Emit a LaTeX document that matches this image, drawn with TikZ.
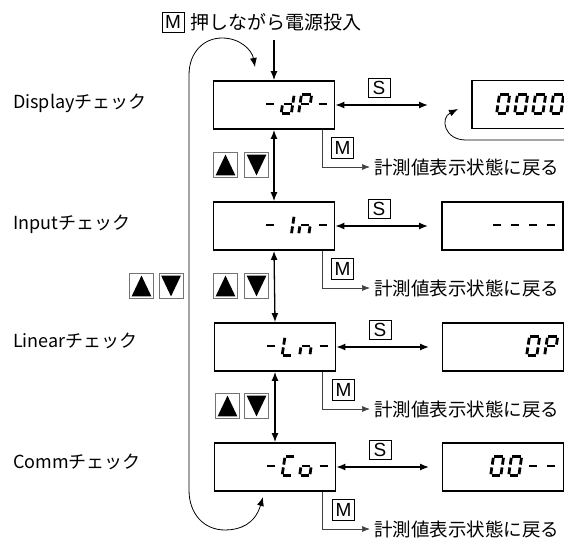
\documentclass[tikz,border=0pt]{standalone}
\usepackage{fontspec}
\setmainfont{Noto Sans CJK JP}
\newfontfamily\latinsans{Liberation Sans}
\usetikzlibrary{arrows.meta}

\newcommand\lcdsega{\draw[lcdseg] (2.4,-20.6) -- (10.6,-20.6);}
\newcommand\lcdsegb{\draw[lcdseg] (11.6,-19.2) -- (11.6,-12.4);}
\newcommand\lcdsegc{\draw[lcdseg] (11.6,-9.6) -- (11.6,-2.8);}
\newcommand\lcdsegd{\draw[lcdseg] (2.4,-1.4) -- (10.6,-1.4);}
\newcommand\lcdsege{\draw[lcdseg] (1.4,-9.6) -- (1.4,-2.8);}
\newcommand\lcdsegf{\draw[lcdseg] (1.4,-19.2) -- (1.4,-12.4);}
\newcommand\lcdsegg{\draw[lcdseg] (2.4,-11) -- (10.6,-11);}
\newcommand\sevseg[3]{%
  \begin{scope}[shift={(#1,#2)}, xslant=0.15]
    \foreach \s in {#3} {\csname lcdseg\s\endcsname}
  \end{scope}}
\newcommand\upkey[2]{\node[arrkey] (#1) at (#2) {};
  \fill ([shift={(2.5pt,2.5pt)}]#1.south west) -- ([shift={(-2.5pt,2.5pt)}]#1.south east) -- ([shift={(0pt,-2.5pt)}]#1.north) -- cycle;}
\newcommand\downkey[2]{\node[arrkey] (#1) at (#2) {};
  \fill ([shift={(2.5pt,-2.5pt)}]#1.north west) -- ([shift={(-2.5pt,-2.5pt)}]#1.north east) -- ([shift={(0pt,2.5pt)}]#1.south) -- cycle;}

\tikzset{
  disp/.style={draw, line width=1.8pt, minimum width=121pt, minimum height=48pt, inner sep=0pt},
  key/.style={draw, line width=0.8pt, inner sep=0pt, minimum width=22pt, minimum height=20pt, font=\latinsans\fontsize{19}{19}\selectfont},
  arrkey/.style={draw=black!55, line width=0.8pt, minimum width=24pt, minimum height=25pt, inner sep=0pt},
  conn/.style={line width=1.3pt, {Latex[length=9pt,width=7pt]}-{Latex[length=9pt,width=7pt]}},
  oneway/.style={line width=1.3pt, -{Latex[length=9pt,width=7pt]}},
  mline/.style={line width=0.7pt, draw=black!75, -{Latex[length=8pt,width=6pt]}, shorten >=4pt},
  looparr/.style={line width=0.8pt},
  lbl/.style={anchor=west, inner sep=0pt, font=\fontsize{18}{18}\selectfont},
  rettext/.style={anchor=west, inner sep=0pt, font=\fontsize{18.5}{19}\selectfont},
  lcdseg/.style={line width=2.8pt},
}

\begin{document}
\begin{tikzpicture}[x=1pt,y=-1pt]
\useasboundingbox (0,0) rectangle (564,538);
\clip (0,0) rectangle (564,538);

% top
\node[key] (m0) at (173,22) {M};
\node[rettext, font=\fontsize{19}{19}\selectfont] (t0) at (190,22) {押しながら電源投入};

% left labels
\node[lbl] (l1) at (13,103) {Displayチェック};
\node[lbl] (l2) at (13,224) {Inputチェック};
\node[lbl] (l3) at (13,341) {Linearチェック};
\node[lbl] (l4) at (13,462) {Commチェック};

% display boxes
\node[disp] (d1) at (274,105) {};
\node[disp] (d2) at (274,226) {};
\node[disp] (d3) at (275,347) {};
\node[disp] (d4) at (275,467) {};
\node[disp] (r1) at (532.5,104.5) {};
\node[disp] (r2) at (502.5,226) {};
\node[disp] (r3) at (503,347) {};
\node[disp] (r4) at (503,467) {};

% LCD contents
\sevseg{262}{115}{g}\sevseg{279.5}{115}{b,c,d,e,g}\sevseg{297}{115}{a,b,e,f,g}\sevseg{314.5}{115}{g}
\sevseg{262}{236}{g}\sevseg{279.5}{236}{b,c}\sevseg{297}{236}{c,e,g}\sevseg{314.5}{236}{g}
\sevseg{263}{357}{g}\sevseg{280.5}{357}{d,e,f}\sevseg{298}{357}{c,e,g}\sevseg{315.5}{357}{g}
\sevseg{263}{477}{g}\sevseg{280.5}{477}{a,d,e,f}\sevseg{298}{477}{c,d,e,g}\sevseg{315.5}{477}{g}
\sevseg{495}{115}{a,b,c,d,e,f}\sevseg{513}{115}{a,b,c,d,e,f}\sevseg{531}{115}{a,b,c,d,e,f}\sevseg{549}{115}{a,b,c,d,e,f}
\sevseg{489}{236}{g}\sevseg{507}{236}{g}\sevseg{525}{236}{g}\sevseg{543}{236}{g}
\sevseg{525}{357}{a,b,c,d,e,f}\sevseg{543}{357}{a,b,e,f,g}
\sevseg{489}{477}{a,b,c,d,e,f}\sevseg{507}{477}{a,b,c,d,e,f}\sevseg{525}{477}{g}\sevseg{543}{477}{g}

% power-on arrow
\coordinate (in0) at (274,40);
\draw[oneway] (in0) -- (d1.north);

% vertical transitions
\draw[conn] (d1.south) -- (d2.north);
\draw[conn] (d2.south) -- (d3.north);
\draw[conn] (d3.south) -- (d4.north);

% S transitions
\coordinate (s1) at (428,105);
\coordinate (s2) at (428,226);
\coordinate (s3) at (429,347);
\coordinate (s4) at (429,467);
\draw[conn] (d1.east) -- (s1);
\draw[conn] (d2.east) -- (s2);
\draw[conn] (d3.east) -- (s3);
\draw[conn] (d4.east) -- (s4);
\node[key, minimum height=19pt] (k1) at (379,88) {S};
\node[key, minimum height=19pt] (k2) at (379,209) {S};
\node[key, minimum height=19pt] (k3) at (380,330) {S};
\node[key, minimum height=19pt] (k4) at (380,450) {S};

% M returns
\node[rettext] (t1) at (374,167) {計測値表示状態に戻る};
\node[rettext] (t2) at (374,288) {計測値表示状態に戻る};
\node[rettext] (t3) at (374,409) {計測値表示状態に戻る};
\node[rettext] (t4) at (374,529) {計測値表示状態に戻る};
\draw[mline] ([xshift=48pt]d1.south) |- (t1.west);
\draw[mline] ([xshift=48pt]d2.south) |- (t2.west);
\draw[mline] ([xshift=47pt]d3.south) |- (t3.west);
\draw[mline] ([xshift=47pt]d4.south) |- (t4.west);
\node[key, minimum height=21pt] (m1) at (342.5,148) {M};
\node[key, minimum height=21pt] (m2) at (342.5,269) {M};
\node[key, minimum height=21pt] (m3) at (343.5,390) {M};
\node[key, minimum height=21pt] (m4) at (343.5,510) {M};

% up/down keys
\upkey{u1}{225.5,165}\downkey{w1}{256.5,165}
\upkey{u2}{225.5,286}\downkey{w2}{256.5,286}
\upkey{u3}{227.5,406}\downkey{w3}{256.5,406}
\upkey{u0}{141.5,286}\downkey{w0}{171,286}

% big left loop
\coordinate (lt) at (255,67);
\coordinate (lb) at (263,497);
\draw[looparr, {Latex[length=9pt,width=7pt]}-{Latex[length=9pt,width=7pt]}]
  (lb) .. controls (255,524) and (240,530) .. (225,530)
  .. controls (204,530) and (189,514) .. (189,490)
  -- (189,75)
  .. controls (189,52) and (204,38) .. (222,38)
  .. controls (240,38) and (252,50) .. (lt);

% loop at right display
\coordinate (rl0) at (600,140);
\coordinate (rl1) at (458,109);
\draw[looparr, -{Latex[length=9pt,width=7pt]}]
  (rl0) -- (466,140) .. controls (444,140) and (440,118) .. (rl1);
\end{tikzpicture}
\end{document}
